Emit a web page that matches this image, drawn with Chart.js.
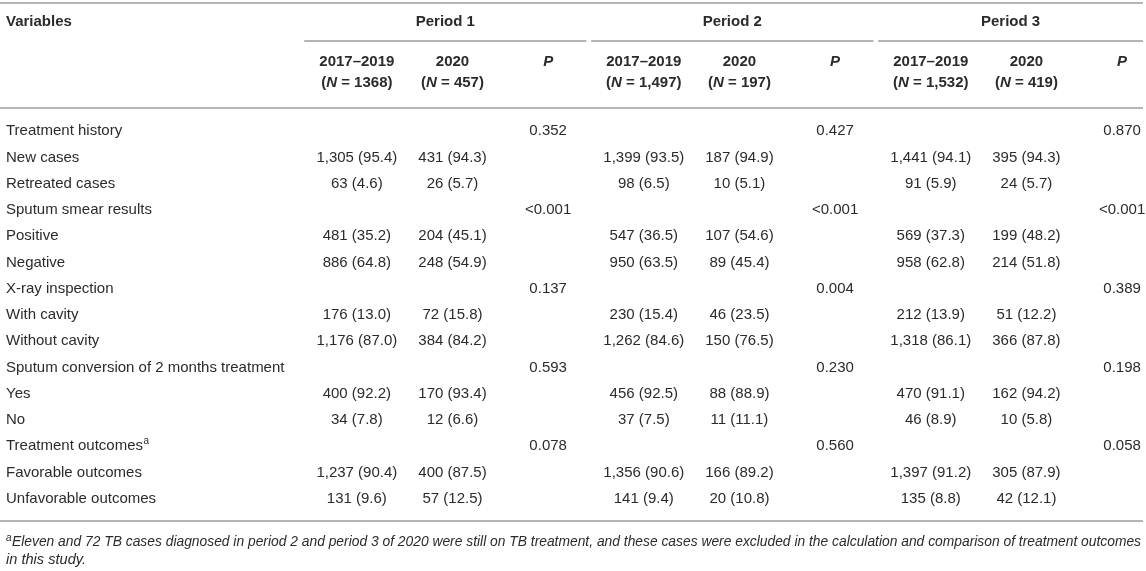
<!DOCTYPE html>
<html lang="en">
<head>
    <meta charset="UTF-8">
    <title>Treatment history and outcomes by period</title>
    <script src="https://cdn.jsdelivr.net/npm/chart.js"></script>
    <style>
        body { margin: 0; background: #fff; }
        #wrap { width: 1146px; height: 571px; position: relative; }
    </style>
</head>
<body>
    <div id="wrap"><canvas id="tableChart"></canvas></div>
    <script>
        // Row labels (left column) and header texts
        const rowLabels = ['Treatment history', 'New cases', 'Retreated cases', 'Sputum smear results', 'Positive', 'Negative',
            'X-ray inspection', 'With cavity', 'Without cavity', 'Sputum conversion of 2 months treatment', 'Yes', 'No',
            'Treatment outcomes', 'Favorable outcomes', 'Unfavorable outcomes'];
        const periods = ['Period 1', 'Period 2', 'Period 3'];
        const yearGroups = ['2017–2019', '2020'];
        const sampleSizes = ['1368', '457', '1,497', '197', '1,532', '419'];
        const countRows = ['New cases', 'Retreated cases', 'Positive', 'Negative', 'With cavity', 'Without cavity',
            'Yes', 'No', 'Favorable outcomes', 'Unfavorable outcomes'];
        const testRows = ['Treatment history', 'Sputum smear results', 'X-ray inspection',
            'Sputum conversion of 2 months treatment', 'Treatment outcomes'];

        // Period 1
        const p1BaseN = [1305, 63, 481, 886, 176, 1176, 400, 34, 1237, 131];
        const p1BasePct = [95.4, 4.6, 35.2, 64.8, 13.0, 87.0, 92.2, 7.8, 90.4, 9.6];
        const p1CovidN = [431, 26, 204, 248, 72, 384, 170, 12, 400, 57];
        const p1CovidPct = [94.3, 5.7, 45.1, 54.9, 15.8, 84.2, 93.4, 6.6, 87.5, 12.5];
        const p1P = ['0.352', '<0.001', '0.137', '0.593', '0.078'];
        // Period 2
        const p2BaseN = [1399, 98, 547, 950, 230, 1262, 456, 37, 1356, 141];
        const p2BasePct = [93.5, 6.5, 36.5, 63.5, 15.4, 84.6, 92.5, 7.5, 90.6, 9.4];
        const p2CovidN = [187, 10, 107, 89, 46, 150, 88, 11, 166, 20];
        const p2CovidPct = [94.9, 5.1, 54.6, 45.4, 23.5, 76.5, 88.9, 11.1, 89.2, 10.8];
        const p2P = ['0.427', '<0.001', '0.004', '0.230', '0.560'];
        // Period 3
        const p3BaseN = [1441, 91, 569, 958, 212, 1318, 470, 46, 1397, 135];
        const p3BasePct = [94.1, 5.9, 37.3, 62.8, 13.9, 86.1, 91.1, 8.9, 91.2, 8.8];
        const p3CovidN = [395, 24, 199, 214, 51, 366, 162, 10, 305, 42];
        const p3CovidPct = [94.3, 5.7, 48.2, 51.8, 12.2, 87.8, 94.2, 5.8, 87.9, 12.1];
        const p3P = ['0.870', '<0.001', '0.389', '0.198', '0.058'];

        const footnote1 = 'Eleven and 72 TB cases diagnosed in period 2 and period 3 of 2020 were still on TB treatment, and these cases were excluded in the calculation and comparison of treatment outcomes';
        const footnote2 = 'in this study.';

        const FONT = "'Liberation Sans', Arial, sans-serif";
        const TEXT = '#2b2b2b';
        const RULE = '#b5b5b5';

        function fmt(n, pct) {
            return n.toLocaleString('en-US') + ' (' + pct.toFixed(1) + ')';
        }

        // one dataset per table column, x = column index, y = row label
        const columns = [
            [p1BaseN, p1BasePct], [p1CovidN, p1CovidPct], p1P,
            [p2BaseN, p2BasePct], [p2CovidN, p2CovidPct], p2P,
            [p3BaseN, p3BasePct], [p3CovidN, p3CovidPct], p3P
        ];
        const datasets = columns.map((col, i) => {
            let data;
            if (i % 3 === 2) {
                data = col.map((p, k) => ({ x: i, y: testRows[k], text: p }));
            } else {
                data = col[0].map((n, k) => ({ x: i, y: countRows[k], text: fmt(n, col[1][k]) }));
            }
            return { data: data, pointRadius: 0, pointHoverRadius: 0 };
        });

        // draws text made of plain / italic pieces, centred on cx
        function richText(ctx, parts, cx, y, weight, size) {
            let total = 0;
            parts.forEach(p => {
                ctx.font = (p.italic ? 'italic ' : '') + weight + ' ' + size + 'px ' + FONT;
                p.w = ctx.measureText(p.t).width;
                total += p.w;
            });
            let x = cx - total / 2;
            ctx.textAlign = 'left';
            parts.forEach(p => {
                ctx.font = (p.italic ? 'italic ' : '') + weight + ' ' + size + 'px ' + FONT;
                ctx.fillText(p.t, x, y);
                x += p.w;
            });
        }

        function hline(ctx, x1, x2, y) {
            ctx.beginPath();
            ctx.moveTo(x1, y);
            ctx.lineTo(x2, y);
            ctx.stroke();
        }

        const tablePlugin = {
            id: 'tableText',
            afterDraw(chart) {
                const ctx = chart.ctx;
                const xs = chart.scales.x;
                const ys = chart.scales.y;
                const area = chart.chartArea;
                const right = chart.width - 3;
                ctx.save();
                ctx.fillStyle = TEXT;
                ctx.textBaseline = 'middle';

                // cell values
                ctx.font = '15px ' + FONT;
                ctx.textAlign = 'center';
                chart.data.datasets.forEach((ds, i) => {
                    const meta = chart.getDatasetMeta(i);
                    meta.data.forEach((pt, j) => {
                        ctx.fillText(ds.data[j].text, pt.x, pt.y);
                    });
                });

                // superscript on "Treatment outcomes"
                const supRow = 'Treatment outcomes';
                ctx.font = '15px ' + FONT;
                const w = ctx.measureText(supRow).width;
                ctx.font = '10px ' + FONT;
                ctx.textAlign = 'left';
                ctx.fillText('a', ys.left + w + 0.5, ys.getPixelForValue(rowLabels.indexOf(supRow)) - 5);

                // rules
                ctx.strokeStyle = RULE;
                ctx.lineWidth = 2;
                hline(ctx, 0, right, 3);
                hline(ctx, 0, right, area.top - 10);
                hline(ctx, 0, right, area.bottom + 9);

                // header
                ctx.font = 'bold 15px ' + FONT;
                ctx.textAlign = 'left';
                ctx.fillText('Variables', ys.left, 22);
                periods.forEach((label, g) => {
                    const x1 = xs.getPixelForValue(g * 3 - 0.55);
                    const x2 = Math.min(xs.getPixelForValue(g * 3 + 2.4), right);
                    hline(ctx, x1, x2, 41);
                    ctx.font = 'bold 15px ' + FONT;
                    ctx.textAlign = 'center';
                    ctx.fillText(label, (x1 + x2) / 2, 22);
                    yearGroups.forEach((yr, k) => {
                        const cx = xs.getPixelForValue(g * 3 + k);
                        ctx.font = 'bold 15px ' + FONT;
                        ctx.textAlign = 'center';
                        ctx.fillText(yr, cx, 62);
                        richText(ctx, [{ t: '(' }, { t: 'N', italic: true }, { t: ' = ' + sampleSizes[g * 2 + k] + ')' }], cx, 83, 'bold', 15);
                    });
                    richText(ctx, [{ t: 'P', italic: true }], xs.getPixelForValue(g * 3 + 2), 62, 'bold', 15);
                });

                // footnote, squeezed to the table width like the original
                const fy = area.bottom + 30;
                ctx.font = 'italic 10px ' + FONT;
                ctx.textAlign = 'left';
                ctx.fillText('a', ys.left, fy - 4);
                ctx.font = 'italic 14.6px ' + FONT;
                ctx.fillText(footnote1, ys.left + 6, fy, right - ys.left - 8);
                ctx.fillText(footnote2, ys.left, fy + 18);
                ctx.restore();
            }
        };

        const chart = new Chart(document.getElementById('tableChart'), {
            type: 'scatter',
            data: { datasets: datasets },
            plugins: [tablePlugin],
            options: {
                responsive: true,
                maintainAspectRatio: false,
                animation: false,
                events: [],
                layout: { padding: { left: 6, right: 0, top: 118, bottom: 59 } },
                plugins: { legend: { display: false }, tooltip: { enabled: false } },
                scales: {
                    x: { type: 'linear', min: -0.5, max: 8.25, display: false },
                    y: {
                        type: 'category',
                        labels: rowLabels,
                        offset: true,
                        grid: { display: false },
                        border: { display: false },
                        ticks: { crossAlign: 'far', autoSkip: false, padding: 0, color: TEXT, font: { family: FONT, size: 15 } },
                        afterFit(scale) { scale.width = 303; }
                    }
                }
            }
        });
    </script>
</body>
</html>
